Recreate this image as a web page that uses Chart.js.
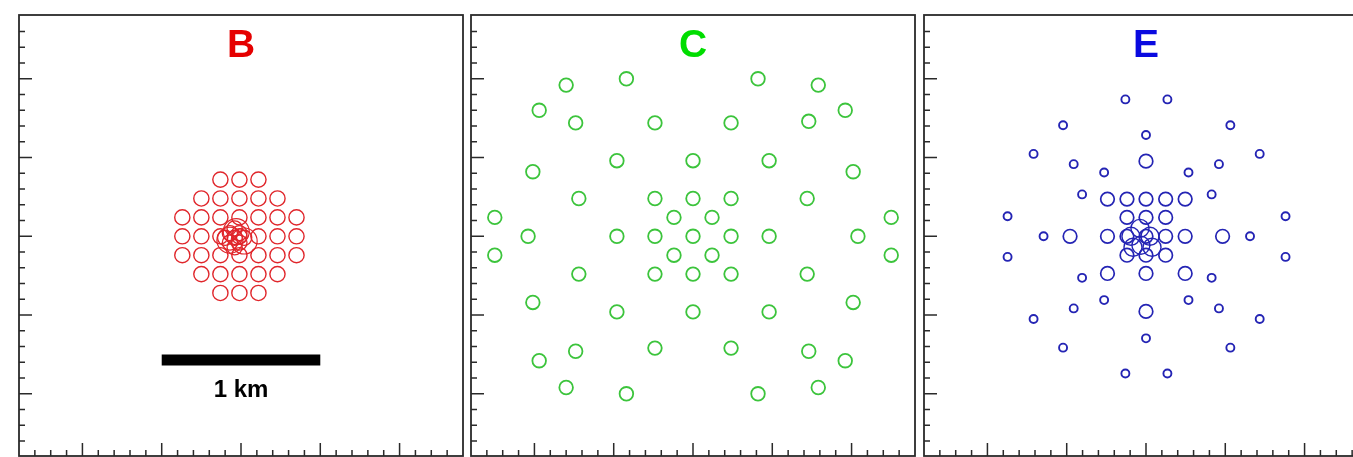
<!DOCTYPE html>
<html lang="en">
<head>
<meta charset="UTF-8">
<title>Array layouts B, C, E</title>
<script src="https://cdn.jsdelivr.net/npm/chart.js"></script>
<style>
  html, body { margin: 0; padding: 0; background: #fff; overflow: hidden; }
  body { width: 1353px; height: 457px; position: relative; }
  canvas { position: absolute; top: 12px; }
</style>
</head>
<body>
<canvas id="panelB" width="450" height="447" style="left:16px"></canvas>
<canvas id="panelC" width="450" height="447" style="left:468px"></canvas>
<canvas id="panelE" width="450" height="447" style="left:921px"></canvas>
<script>
// all positions in km from the array centre
const panelTitles = ['B', 'C', 'E'];

// B: dense grid + overlapping core
const bGridX = [-0.13, -0.01, 0.11,
  -0.25, -0.13, -0.01, 0.11, 0.23,
  -0.37, -0.25, -0.13, -0.01, 0.11, 0.23, 0.35,
  -0.37, -0.25, -0.13, -0.01, 0.11, 0.23, 0.35,
  -0.37, -0.25, -0.13, -0.01, 0.11, 0.23, 0.35,
  -0.25, -0.13, -0.01, 0.11, 0.23,
  -0.13, -0.01, 0.11];
const bGridY = [0.36, 0.36, 0.36,
  0.24, 0.24, 0.24, 0.24, 0.24,
  0.12, 0.12, 0.12, 0.12, 0.12, 0.12, 0.12,
  0, 0, 0, 0, 0, 0, 0,
  -0.12, -0.12, -0.12, -0.12, -0.12, -0.12, -0.12,
  -0.24, -0.24, -0.24, -0.24, -0.24,
  -0.36, -0.36, -0.36];
const bCoreX = [-0.04, -0.04, -0.04, -0.10, 0.02, -0.07, -0.01, -0.07, -0.01];
const bCoreY = [-0.01, 0.05, -0.07, -0.01, -0.01, 0.02, 0.02, -0.04, -0.04];
const bWideX = [-0.07, 0.02, -0.03];
const bWideY = [-0.025, -0.03, 0.03];
const scaleBarX = [-0.5, 0.5];
const scaleBarY = [-0.785, -0.785];
const scaleBarText = '1 km';

// C: sparse rings
const cX = [-0.42, 0.41, -0.80, 0.79, -0.97, 0.96,
  -0.74, -0.24, 0.24, 0.73, -0.48, 0, 0.48, -1.01, 1.01,
  -0.72, -0.24, 0, 0.24, 0.72, -1.25, -0.12, 0.12, 1.25,
  -1.04, -0.48, -0.24, 0, 0.24, 0.48, 1.04,
  -1.25, -0.12, 0.12, 1.25, -0.72, -0.24, 0, 0.24, 0.72,
  -1.01, 1.01, -0.48, 0, 0.48, -0.74, -0.24, 0.24, 0.73,
  -0.97, 0.96, -0.80, 0.79, -0.42, 0.41];
const cY = [1.00, 1.00, 0.96, 0.96, 0.80, 0.80,
  0.72, 0.72, 0.72, 0.73, 0.48, 0.48, 0.48, 0.41, 0.41,
  0.24, 0.24, 0.24, 0.24, 0.24, 0.12, 0.12, 0.12, 0.12,
  0, 0, 0, 0, 0, 0, 0,
  -0.12, -0.12, -0.12, -0.12, -0.24, -0.24, -0.24, -0.24, -0.24,
  -0.42, -0.42, -0.48, -0.48, -0.48, -0.73, -0.71, -0.71, -0.73,
  -0.79, -0.79, -0.96, -0.96, -1.00, -1.00];

// E: small outer stations + larger inner stations
const eSmallX = [-0.13, 0.135, -0.523, 0.532, 0, -0.709, 0.717, -0.456, 0.46,
  -0.264, 0.268, -0.403, 0.414, -0.873, 0.88, -0.646, 0.656, -0.873, 0.88,
  -0.403, 0.414, -0.264, 0.268, -0.456, 0.46, -0.709, 0.717, -0.523, 0.532,
  0, -0.13, 0.135];
const eSmallY = [0.869, 0.869, 0.705, 0.705, 0.643, 0.523, 0.523, 0.458, 0.458,
  0.405, 0.405, 0.266, 0.266, 0.127, 0.127, 0, 0, -0.131, -0.131,
  -0.264, -0.264, -0.405, -0.405, -0.458, -0.458, -0.525, -0.525, -0.707, -0.707,
  -0.648, -0.871, -0.871];
const eLargeX = [0, -0.243, -0.12, 0, 0.124, 0.247, -0.12, 0, 0.124,
  -0.479, -0.243, -0.12, 0, 0.124, 0.247, 0.483, -0.12, 0, 0.124,
  -0.243, 0, 0.247, 0];
const eLargeY = [0.477, 0.236, 0.236, 0.236, 0.236, 0.236, 0.12, 0.12, 0.12,
  0, 0, 0, 0, 0, 0, 0, -0.12, -0.12, -0.12,
  -0.236, -0.236, -0.236, -0.477];
const eCoreX = [-0.095, -0.038, 0.025, -0.032, 0.038, -0.082];
const eCoreY = [0, 0.05, 0, -0.057, -0.07, -0.07];

const pts = (xs, ys) => xs.map((x, i) => ({ x: x, y: ys[i] }));

// inward ticks + frame + texts
const framePlugin = {
  id: 'framePlugin',
  afterDraw(chart, args, opts) {
    const ctx = chart.ctx, a = chart.chartArea;
    const xs = chart.scales.x, ys = chart.scales.y;
    ctx.save();
    ctx.strokeStyle = '#2a2a2a';
    ctx.lineWidth = 1.5;
    ctx.beginPath();
    for (let i = -13; i <= 13; i++) {
      const v = i / 10;
      const len = (i % 5 === 0) ? 13 : 6;
      const py = ys.getPixelForValue(v);
      ctx.moveTo(a.left, py);
      ctx.lineTo(a.left + len, py);
      const px = xs.getPixelForValue(v);
      ctx.moveTo(px, a.bottom);
      ctx.lineTo(px, a.bottom - len);
    }
    ctx.stroke();
    ctx.lineWidth = 1.8;
    ctx.strokeRect(a.left, a.top, a.right - a.left, a.bottom - a.top);

    ctx.textAlign = 'center';
    ctx.textBaseline = 'alphabetic';
    ctx.fillStyle = opts.color;
    ctx.font = 'bold 39px "Liberation Sans", Arial, sans-serif';
    ctx.fillText(opts.title, xs.getPixelForValue(0), a.top + 42);
    if (opts.label) {
      ctx.fillStyle = '#000';
      ctx.font = 'bold 24px "Liberation Sans", Arial, sans-serif';
      ctx.fillText(opts.label, xs.getPixelForValue(0), ys.getPixelForValue(-1.02));
    }
    ctx.restore();
  }
};

function circles(data, color, r, w) {
  return {
    data: data,
    pointStyle: 'circle',
    pointRadius: r,
    pointBorderWidth: w,
    borderColor: color,
    backgroundColor: 'rgba(0,0,0,0)',
    showLine: false
  };
}

function makePanel(id, datasets, title, color, label) {
  new Chart(document.getElementById(id), {
    type: 'scatter',
    data: { datasets: datasets },
    options: {
      responsive: false,
      animation: false,
      events: [],
      layout: { padding: 3, autoPadding: false },
      plugins: {
        legend: { display: false },
        tooltip: { enabled: false },
        framePlugin: { title: title, color: color, label: label }
      },
      scales: {
        x: { type: 'linear', min: -1.4, max: 1.4, display: false },
        y: { type: 'linear', min: -1.395, max: 1.405, display: false }
      }
    },
    plugins: [framePlugin]
  });
}

const red = '#e0262b', green = '#3cc43c', blue = '#2424b4';

makePanel('panelB', [
  circles(pts(bGridX, bGridY), red, 7.6, 1.4),
  circles(pts(bCoreX, bCoreY), red, 7.6, 1.3),
  circles(pts(bWideX, bWideY), red, 13, 1.2),
  {
    data: pts(scaleBarX, scaleBarY),
    showLine: true,
    borderColor: '#000',
    borderWidth: 11,
    borderCapStyle: 'butt',
    pointRadius: 0
  }
], panelTitles[0], '#e50000', scaleBarText);

makePanel('panelC', [
  circles(pts(cX, cY), green, 6.8, 1.8)
], panelTitles[1], '#00dd00');

makePanel('panelE', [
  circles(pts(eSmallX, eSmallY), blue, 4, 1.9),
  circles(pts(eLargeX, eLargeY), blue, 6.8, 1.7),
  circles(pts(eCoreX, eCoreY), blue, 9, 1.4)
], panelTitles[2], '#0a0ae0');
</script>
</body>
</html>
